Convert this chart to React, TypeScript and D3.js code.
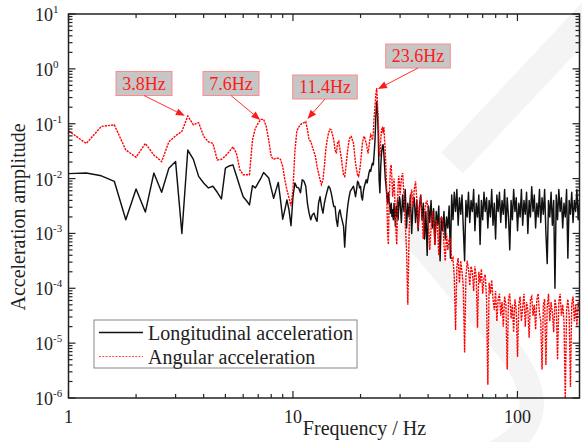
import React from "react";
import * as d3 from "d3";

// ---------- DATA (log10 of acceleration amplitude) ----------
// Low band: 1.0 Hz .. 29.8 Hz, 0.2 Hz resolution
const lowStartHz = 1.0;
const lowStepHz = 0.2;
const longitudinalLow = [
  -1.91, -1.90, -1.95, -2.05, -2.75, -2.19, -2.61, -1.90, -2.25, -1.81,
  -1.69, -3.00, -1.48, -1.65, -1.96, -2.08, -2.17, -2.14, -2.25, -2.37,
  -1.81, -1.77, -1.75, -1.95, -2.15, -2.33, -2.40, -2.48, -2.13, -2.17,
  -2.08, -1.99, -1.89, -1.94, -1.99, -2.18, -2.36, -2.21, -2.07, -2.39,
  -2.74, -2.57, -2.39, -2.57, -2.86, -2.33, -2.08, -2.16, -2.17, -2.26,
  -2.02, -2.05, -2.14, -2.45, -2.63, -2.75, -2.66, -2.63, -2.72, -2.78,
  -2.45, -2.33, -2.51, -2.63, -2.45, -2.33, -2.23, -2.14, -2.17, -2.26,
  -2.39, -2.51, -2.51, -2.75, -2.87, -2.63, -2.57, -2.69, -2.78, -2.87,
  -3.25, -2.87, -2.63, -2.45, -2.33, -2.23, -2.20, -2.17, -2.14, -2.23,
  -2.33, -2.20, -2.05, -2.08, -2.17, -2.14, -2.33, -2.39, -2.23, -2.14,
  -2.08, -2.02, -2.08, -1.99, -1.90, -1.84, -1.87, -1.78, -1.72, -1.75,
  -1.54, -1.30, -0.87, -0.60, -0.81, -1.23, -2.02, -2.26, -1.78, -1.54,
  -1.42, -1.38, -1.54, -1.78, -2.02, -2.14, -2.33, -2.45, -2.26, -2.39,
  -2.51, -2.63, -2.45, -2.69, -2.57, -2.75, -2.45, -2.63, -2.87, -2.51,
  -2.69, -2.39, -2.75, -2.51, -2.33,
];
const angularLow = [
  -1.13, -1.36, -1.05, -1.02, -1.48, -1.61, -1.36, -1.57, -1.69, -1.33,
  -1.22, -1.14, -0.86, -1.02, -0.98, -1.23, -1.33, -1.36, -1.66, -1.65,
  -1.59, -1.51, -1.42, -1.54, -1.84, -1.93, -1.93, -1.93, -1.30, -1.08,
  -0.99, -0.92, -0.92, -1.05, -1.30, -1.60, -1.65, -1.63, -1.63, -1.65,
  -1.78, -2.02, -2.21, -2.35, -2.50, -2.20, -1.50, -1.14, -1.06, -1.02,
  -0.99, -0.98, -0.96, -1.11, -1.30, -1.32, -1.42, -1.51, -1.60, -1.78,
  -1.90, -2.02, -2.11, -2.02, -1.78, -1.48, -1.30, -1.17, -1.10, -1.11,
  -1.20, -1.30, -1.48, -1.54, -1.35, -1.32, -1.48, -1.60, -1.78, -1.93,
  -1.96, -1.81, -1.60, -1.42, -1.30, -1.23, -1.23, -1.30, -1.35, -1.54,
  -1.72, -1.84, -1.93, -1.96, -1.87, -1.72, -1.54, -1.35, -1.26, -1.23,
  -1.30, -1.35, -1.45, -1.54, -1.42, -1.30, -1.20, -1.23, -1.30, -1.17,
  -0.87, -0.69, -0.47, -0.35, -0.63, -0.99, -1.48, -1.60, -1.30, -1.11,
  -1.08, -1.17, -1.06, -1.30, -1.54, -1.90, -2.39, -3.00, -3.20, -2.51,
  -2.08, -1.80, -1.75, -2.02, -2.33, -2.21, -2.00, -2.30, -2.70, -3.00,
  -3.20, -2.60, -2.10, -1.95, -2.10,
];

// High band: from 30 Hz upward, log-spaced samples (decimated spectrum)
const highStartHz = 30;
const highLog10Step = 0.00575;
const longitudinalHigh = [
  -2.40, -2.80, -2.30, -2.60, -2.20, -2.90, -2.45, -2.70, -2.30, -3.00,
  -2.50, -2.35, -2.80, -2.40, -2.95, -2.50, -2.30, -2.75, -2.45, -3.10,
  -2.60, -3.40, -2.50, -2.80, -2.40, -2.90, -2.55, -3.20, -2.60, -2.85,
  -2.50, -3.50, -2.70, -2.95, -2.60, -3.10, -2.70, -2.90, -2.50, -3.45,
  -2.30, -2.75, -2.25, -2.60, -2.20, -2.85, -2.35, -2.65, -2.30, -2.90,
  -3.50, -2.40, -2.70, -2.25, -2.80, -2.40, -2.60, -2.20, -2.95, -2.45,
  -2.70, -2.30, -3.20, -2.40, -2.75, -2.25, -2.60, -2.35, -2.90, -2.40,
  -2.70, -2.20, -2.85, -2.45, -3.10, -2.30, -2.60, -2.25, -2.80, -2.40,
  -2.65, -2.20, -2.90, -2.35, -2.70, -3.30, -2.40, -2.75, -2.20, -2.60,
  -2.35, -2.95, -2.45, -2.70, -2.20, -2.85, -2.40, -2.65, -2.25, -3.00,
  -2.40, -2.70, -2.15, -2.60, -2.30, -2.90, -2.45, -2.70, -2.20, -2.80,
  -2.35, -2.65, -2.20, -3.00, -3.55, -2.40, -2.70, -2.25, -2.85, -2.40,
  -4.00, -2.30, -2.75, -2.20, -2.60, -2.35, -2.90, -2.45, -2.70, -2.20,
  -3.45, -2.40, -2.65, -2.25, -2.80, -2.40, -2.60, -2.20, -2.75, -2.40,
];
const angularHigh = [
  -2.30, -2.00, -1.90, -2.30, -2.80, -3.30, -4.30, -3.00, -2.40, -2.20,
  -2.50, -2.20, -2.05, -2.40, -2.90, -2.50, -2.30, -2.70, -3.10, -2.60,
  -2.45, -2.40, -2.80, -3.30, -2.90, -2.60, -2.80, -3.20, -2.75, -2.90,
  -3.40, -2.80, -2.70, -2.75, -3.20, -3.50, -3.00, -3.30, -3.10, -3.10,
  -3.50, -3.45, -3.80, -4.76, -3.60, -3.45, -3.90, -3.50, -3.70, -4.00,
  -5.17, -3.80, -3.50, -3.65, -3.95, -3.60, -3.70, -4.05, -3.60, -3.80,
  -4.72, -3.70, -3.90, -3.65, -4.10, -3.80, -3.75, -4.20, -5.76, -3.90,
  -4.10, -3.85, -4.20, -4.40, -4.05, -4.60, -4.20, -4.10, -4.50, -4.25,
  -4.70, -4.15, -4.30, -5.48, -4.20, -4.10, -4.55, -4.30, -4.80, -4.20,
  -4.40, -5.25, -4.30, -4.15, -4.60, -4.35, -4.10, -4.70, -4.25, -4.40,
  -4.90, -4.20, -4.15, -4.50, -4.30, -4.75, -4.20, -4.10, -4.45, -4.60,
  -5.48, -4.30, -4.20, -5.40, -4.35, -4.10, -4.60, -4.25, -4.45, -4.80,
  -4.20, -4.35, -5.30, -4.25, -4.10, -4.50, -4.30, -4.60, -6.03, -4.40,
  -4.20, -4.50, -5.80, -4.30, -4.15, -4.60, -4.30, -4.70, -4.25, -4.40,
];

const seriesNames = ["Longitudinal acceleration", "Angular acceleration"];
const xMajorTicks = [1, 10, 100];
const yExponents = [1, 0, -1, -2, -3, -4, -5, -6];
const peakLabels = ["3.8Hz", "7.6Hz", "11.4Hz", "23.6Hz"];
const peakFreqs = [3.3, 7.15, 11.6, 23.9];
const peakAmps = [0.139, 0.117, 0.122, 0.43];
// label box centres (layout, px)
const labelBoxCenters: [number, number][] = [
  [144, 83.5],
  [231, 83.5],
  [325, 87],
  [418, 56],
];

// ---------- LAYOUT ----------
const W = 582;
const H = 442;
const L = 68.5;
const R = 579.5;
const T = 14;
const B = 398;
const FONT = "'Liberation Serif', 'Times New Roman', serif";

type Pt = { f: number; a: number };

function buildSeries(low: number[], high: number[]): Pt[] {
  const a: Pt[] = low.map((v, i) => ({ f: +(lowStartHz + i * lowStepHz).toFixed(2), a: Math.pow(10, v) }));
  const b: Pt[] = high.map((v, i) => ({ f: highStartHz * Math.pow(10, i * highLog10Step), a: Math.pow(10, v) }));
  return a.concat(b);
}

export default function App() {
  const x = d3.scaleLog().domain([1, 189]).range([L, R]);
  const y = d3.scaleLog().domain([1e-6, 10]).range([B, T]);

  const longi = buildSeries(longitudinalLow, longitudinalHigh);
  const ang = buildSeries(angularLow, angularHigh);
  const line = d3
    .line<Pt>()
    .x((d) => x(d.f))
    .y((d) => y(d.a));

  // ticks
  const xMinor: number[] = [];
  for (const base of [1, 10, 100]) {
    for (let k = 2; k <= 9; k++) {
      const v = base * k;
      if (v < 189) xMinor.push(v);
    }
  }
  const yMinor: number[] = [];
  for (let e = -6; e < 1; e++) {
    for (let k = 2; k <= 9; k++) yMinor.push(k * Math.pow(10, e));
  }

  const axisColor = "#222";
  const major = 7;
  const minor = 4;

  return (
    <svg
      width={W}
      height={H}
      style={{ position: "fixed", left: 0, top: 0, background: "#fff" }}
      fontFamily={FONT}
    >
      <rect x={0} y={0} width={W} height={H} fill="#fff" />
      {/* faint watermark */}
      <g fill="none" stroke="#f4f4f4" strokeLinecap="butt">
        <line x1={605} y1={0} x2={452} y2={163} strokeWidth={30} />
        <path d="M 402,222 L 505,345 Q 548,398 522,432 Q 500,458 440,470" strokeWidth={24} />
      </g>

      <defs>
        <clipPath id="plotclip">
          <rect x={L} y={T} width={R - L} height={B - T} />
        </clipPath>
      </defs>

      <g clipPath="url(#plotclip)">
        <path d={line(longi) || ""} fill="none" stroke="#111" strokeWidth={1.45} strokeLinejoin="round" />
        <path
          d={line(ang) || ""}
          fill="none"
          stroke="#ff0000"
          strokeWidth={1.4}
          strokeDasharray="2.2,1"
        />
      </g>

      {/* frame */}
      <rect x={L} y={T} width={R - L} height={B - T} fill="none" stroke={axisColor} strokeWidth={1.5} />

      {/* x ticks bottom & top */}
      <g stroke={axisColor} strokeWidth={1.2}>
        {xMajorTicks.map((v) => (
          <g key={"xm" + v}>
            <line x1={x(v)} x2={x(v)} y1={B} y2={B - major} />
            <line x1={x(v)} x2={x(v)} y1={T} y2={T + major} />
          </g>
        ))}
        {xMinor.map((v) => (
          <g key={"xn" + v}>
            <line x1={x(v)} x2={x(v)} y1={B} y2={B - minor} />
            <line x1={x(v)} x2={x(v)} y1={T} y2={T + minor} />
          </g>
        ))}
        {yExponents.map((e) => (
          <g key={"ym" + e}>
            <line x1={L} x2={L + major} y1={y(Math.pow(10, e))} y2={y(Math.pow(10, e))} />
            <line x1={R} x2={R - major} y1={y(Math.pow(10, e))} y2={y(Math.pow(10, e))} />
          </g>
        ))}
        {yMinor.map((v, i) => (
          <g key={"yn" + i}>
            <line x1={L} x2={L + minor} y1={y(v)} y2={y(v)} />
            <line x1={R} x2={R - minor} y1={y(v)} y2={y(v)} />
          </g>
        ))}
      </g>

      {/* x tick labels */}
      {xMajorTicks.map((v) => (
        <text key={"xl" + v} x={x(v)} y={423} fontSize={18} textAnchor="middle" fill="#222">
          {v}
        </text>
      ))}
      {/* y tick labels */}
      {yExponents.map((e) => (
        <text key={"yl" + e} x={35} y={y(Math.pow(10, e)) + 7} fontSize={18} fill="#222">
          10
          <tspan dy={-8} fontSize={11}>
            {e}
          </tspan>
        </text>
      ))}

      {/* axis titles */}
      <text x={364.5} y={435} fontSize={20} textAnchor="middle" fill="#222">
        Frequency / Hz
      </text>
      <text
        transform={`translate(25, 217) rotate(-90)`}
        fontSize={20}
        textAnchor="middle"
        fill="#222"
      >
        Acceleration amplitude
      </text>

      {/* peak annotations */}
      {peakLabels.map((lab, i) => {
        const [cx, cy] = labelBoxCenters[i];
        const bw = lab.length * 8.6 + 13;
        const bh = 24;
        const tx = x(peakFreqs[i]);
        const ty = y(peakAmps[i]);
        const sx = cx;
        const sy = cy + bh / 2;
        const ang0 = Math.atan2(ty - sy, tx - sx);
        const hl = 9;
        const hw = 3.6;
        const bx = tx - hl * Math.cos(ang0);
        const by = ty - hl * Math.sin(ang0);
        const px = -Math.sin(ang0);
        const py = Math.cos(ang0);
        return (
          <g key={lab}>
            <rect
              x={cx - bw / 2}
              y={cy - bh / 2}
              width={bw}
              height={bh}
              fill="#c6c6c6"
              stroke="#ff8c8c"
              strokeWidth={1}
            />
            <text x={cx} y={cy + 6} fontSize={18} textAnchor="middle" fill="#ff1a1a">
              {lab}
            </text>
            <line x1={sx} y1={sy} x2={bx} y2={by} stroke="#ff3030" strokeWidth={1} />
            <polygon
              points={`${tx},${ty} ${bx + px * hw},${by + py * hw} ${bx - px * hw},${by - py * hw}`}
              fill="#ff1a1a"
            />
          </g>
        );
      })}

      {/* legend */}
      <g>
        <rect x={94} y={320} width={263} height={48} fill="#fff" stroke="#888" strokeWidth={1} />
        <line x1={99} x2={143} y1={332.5} y2={332.5} stroke="#111" strokeWidth={1.3} />
        <line x1={99} x2={143} y1={356.5} y2={356.5} stroke="#ff0000" strokeWidth={1.2} strokeDasharray="2,1.3" opacity={0.7} />
        <text x={148} y={339.5} fontSize={20} fill="#222">
          {seriesNames[0]}
        </text>
        <text x={148} y={363.5} fontSize={20} fill="#222">
          {seriesNames[1]}
        </text>
      </g>
    </svg>
  );
}
